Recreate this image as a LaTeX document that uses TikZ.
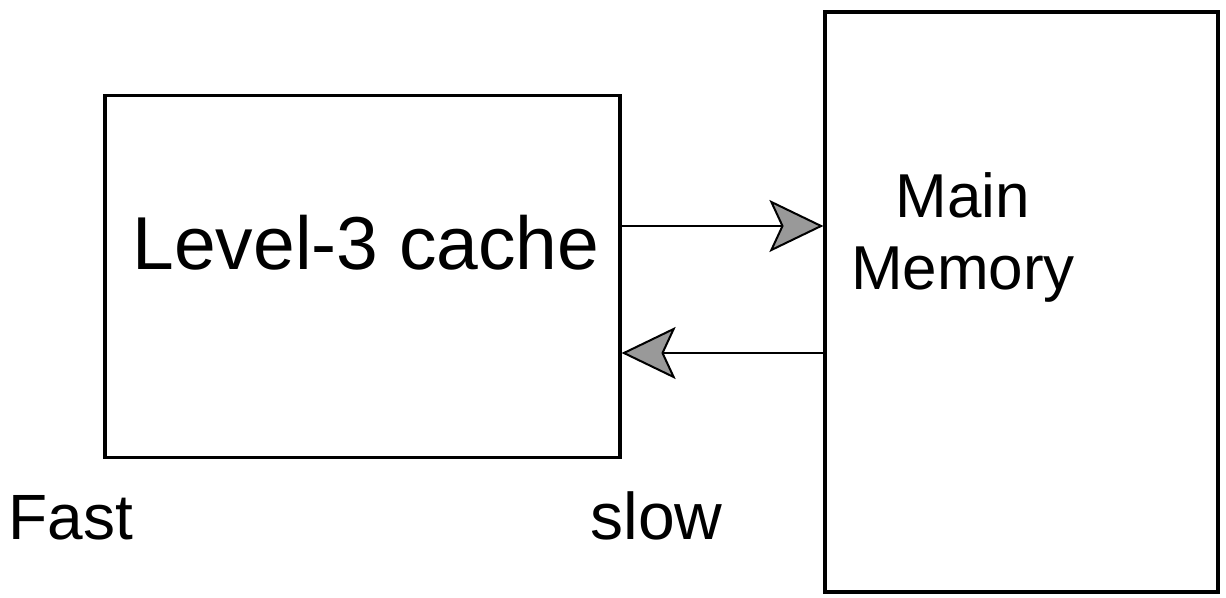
\documentclass[tikz,border=0pt]{standalone}
\usepackage{fontspec}
\setmainfont{Liberation Sans}
\usetikzlibrary{arrows.meta,calc}
\tikzset{
  box/.style={draw=black, line width=1.6pt, rectangle, inner sep=0pt},
  lbl/.style={inner sep=0pt, text=black, align=center},
  conn/.style={draw=black, line width=1.3pt,
    -{Stealth[length=27pt,width=26pt,inset=6pt,fill=gray!80,line width=1pt]}},
}
\begin{document}
\begin{tikzpicture}[x=0.5pt,y=-0.5pt]
\useasboundingbox (0,0) rectangle (1226,598);
\node[box, minimum width=257.5pt, minimum height=181pt] (cache) at (362.5,276.5) {};
\node[box, minimum width=196.5pt, minimum height=290pt] (mem) at (1021.5,302) {};
\node[lbl, font=\fontsize{37.5}{40}\selectfont] (cachetext) at (366,243) {Level-3 cache};
\node[lbl, font=\fontsize{31}{36}\selectfont] (memtext) at (963,237) {Main\\Memory};
\node[lbl, font=\fontsize{32}{36}\selectfont, anchor=west] (fast) at (8,518) {Fast};
\node[lbl, font=\fontsize{33}{36}\selectfont, anchor=west] (slow) at (590,516) {slow};
\coordinate (ya) at (0,226);
\coordinate (yb) at (0,353);
\draw[conn] (cache.east |- ya) -- (mem.west |- ya);
\draw[conn] (mem.west |- yb) -- (cache.east |- yb);
\end{tikzpicture}
\end{document}
